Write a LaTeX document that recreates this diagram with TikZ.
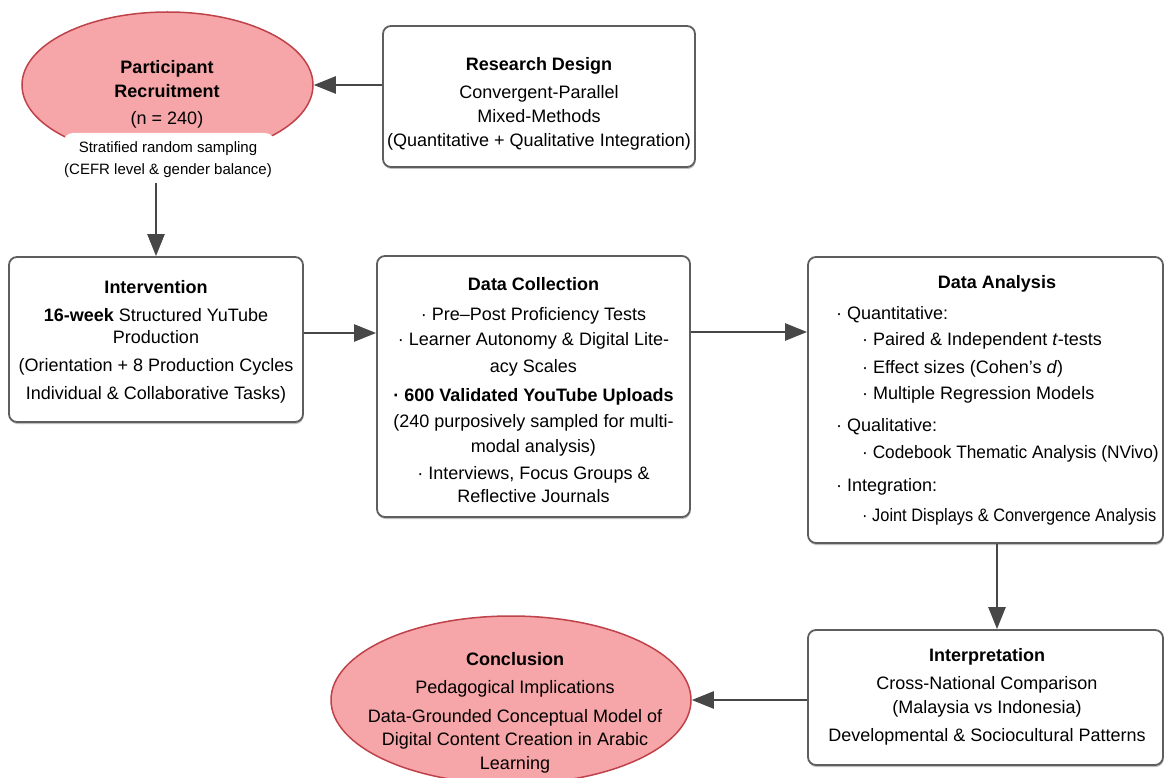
\documentclass[tikz,border=0pt]{standalone}
\usepackage{fontspec}
\usepackage{graphicx}
\setmainfont{Liberation Sans}
\usetikzlibrary{arrows.meta,shapes.geometric,shadows}
\definecolor{boxline}{HTML}{5E5E5E}
\definecolor{arrowc}{HTML}{474747}
\definecolor{pinkfill}{HTML}{F6A5A8}
\definecolor{pinkline}{HTML}{BF424A}
\begin{document}
\begin{tikzpicture}[x=1pt,y=-1pt,
  box/.style={draw=boxline, line width=1.8pt, rounded corners=8pt, fill=white, inner sep=0pt,
    drop shadow={shadow xshift=0.6pt, shadow yshift=-2pt, opacity=0.25, fill=black}},
  oval/.style={ellipse, draw=pinkline, line width=1.5pt, fill=pinkfill, inner sep=0pt},
  tagbox/.style={fill=white, rounded corners=10pt, inner sep=0pt},
  txt/.style={align=center, inner sep=0pt, font=\fontsize{18}{24}\selectfont},
  conn/.style={draw=arrowc, line width=2.5pt, -{Triangle[length=22pt,width=17pt]}}]
\useasboundingbox (0,0) rectangle (1166,778);

% shapes
\node[oval, minimum width=291pt, minimum height=146pt] (pr) at (167.5,85) {};
\node[tagbox, minimum width=212pt, minimum height=50pt] (tag) at (169,158) {};
\node[box, minimum width=312pt, minimum height=141pt] (rd) at (539,96.5) {};
\node[box, minimum width=294pt, minimum height=165pt] (iv) at (156,339.5) {};
\node[box, minimum width=313pt, minimum height=261pt] (dc) at (533.5,386.5) {};
\node[box, minimum width=355pt, minimum height=286pt] (da) at (985.5,400) {};
\node[box, minimum width=355pt, minimum height=135pt] (ip) at (985.5,697.5) {};
\node[oval, minimum width=360pt, minimum height=168pt] (cc) at (511,700) {};

% texts
\node[txt] (prt) at (167,94) {\textbf{Participant}\\\textbf{Recruitment}\\[3pt](n = 240)};
\node[txt, font=\fontsize{15}{22}\selectfont] (tagt) at (168,160) {Stratified random sampling\\(CEFR level \& gender balance)};
\node[txt] (rdt) at (539,104) {\textbf{Research Design}\\[4pt]Convergent-Parallel\\Mixed-Methods\\(Quantitative + Qualitative Integration)};
\node[txt] (ivt) at (156,341.5) {\textbf{Intervention}\\[4pt]\textbf{16-week} Structured YuTube\\[-2pt]Production\\[4pt](Orientation + 8 Production Cycles\\[4pt]Individual \& Collaborative Tasks)};
\node[txt, font=\fontsize{18}{25}\selectfont] (dct) at (533.5,390.5) {\textbf{Data Collection}\\[5pt]· Pre–Post Proficiency Tests\\· Learner Autonomy \& Digital Lite-\\[2pt]acy Scales\\[4pt]\textbf{· 600 Validated YouTube Uploads}\\[1pt](240 purposively sampled for multi-\\modal analysis)\\[2pt]· Interviews, Focus Groups \&\\[-2pt]Reflective Journals};
\node[txt] (dat) at (997,284) {\textbf{Data Analysis}};
\node[txt, align=left, anchor=west, font=\fontsize{18}{26}\selectfont] (dab) at (836,415.5) {· Quantitative:\\
\hspace*{26pt}· Paired \& Independent \textit{t}-tests\\[2pt]
\hspace*{26pt}· Effect sizes (Cohen’s \textit{d})\\
\hspace*{26pt}· Multiple Regression Models\\[6pt]
· Qualitative:\\[1pt]
\hspace*{26pt}\scalebox{0.96}[1]{· Codebook Thematic Analysis (NVivo)}\\[7pt]
· Integration:\\[4pt]
\hspace*{26pt}\scalebox{0.91}[1]{· Joint Displays \& Convergence Analysis}};
\node[txt, font=\fontsize{18}{26}\selectfont] (ipt) at (987,696.5) {\textbf{Interpretation}\\[2pt]Cross-National Comparison\\[-2pt](Malaysia vs Indonesia)\\[2pt]Developmental \& Sociocultural Patterns};
\node[txt] (cct) at (515,712.5) {\textbf{Conclusion}\\[4pt]Pedagogical Implications\\[5pt]Data-Grounded Conceptual Model of\\[-1pt]Digital Content Creation in Arabic\\Learning};

% connectors
\draw[conn] (rd.west |- pr.east) -- (pr.east);
\draw[conn] (iv.north |- tag.south) -- (iv.north);
\draw[conn] ([yshift=6.5pt]iv.east) coordinate (a1) -- (a1 -| dc.west);
\draw[conn] ([yshift=54.5pt]dc.east) coordinate (a2) -- (a2 -| da.west);
\draw[conn] ([xshift=11.5pt]da.south) coordinate (a3) -- (a3 |- ip.north);
\draw[conn] (ip.west |- cc.east) -- (cc.east);
\end{tikzpicture}
\end{document}
